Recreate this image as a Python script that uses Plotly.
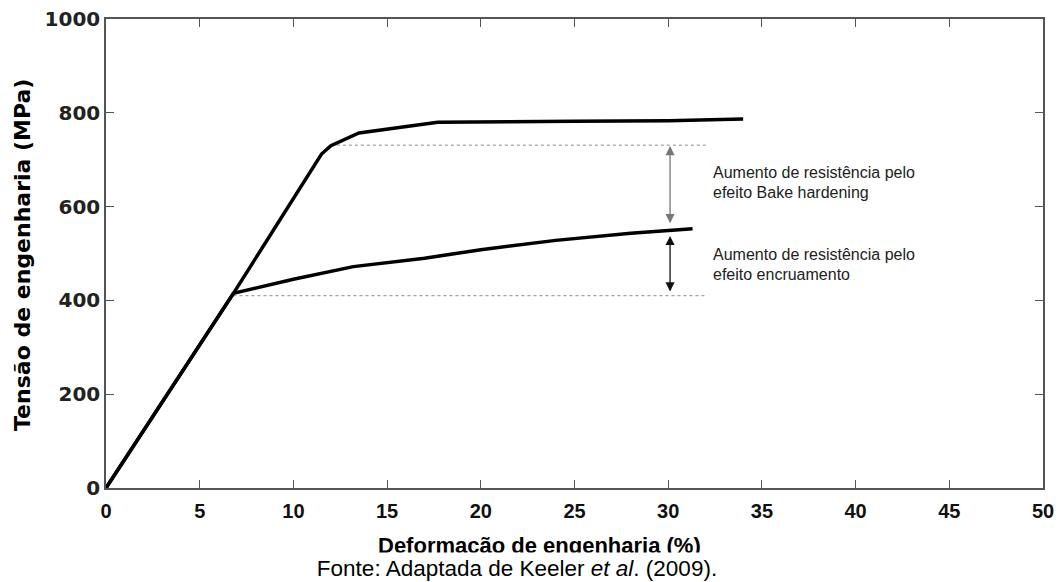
import numpy as np
import plotly.graph_objects as go

# ---- data ----
bh_strain = [0, 6.8, 11.5, 12.0, 13.5, 17.7, 25.0, 30.0, 34.0]
bh_stress = [0, 415, 712, 730, 757, 780, 782, 783, 787]

wh_strain = [0, 6.8, 10.0, 13.2, 17.0, 20.0, 24.0, 28.0, 31.3]
wh_stress = [0, 415, 445, 472, 490, 508, 528, 543, 553]

ref_levels = [731, 410]          # dotted reference levels (MPa)
ref_start = [12.0, 6.8]          # strain where each dotted line starts
ref_end = 32.0                   # strain where dotted lines end
arrow_x = 30.1                   # strain of the double arrows

x_ticks = [0, 5, 10, 15, 20, 25, 30, 35, 40, 45, 50]
y_ticks = [0, 200, 400, 600, 800, 1000]

label_bh = ["Aumento de resistência pelo", "efeito Bake hardening"]
label_wh = ["Aumento de resistência pelo", "efeito encruamento"]
label_bh_y = [672, 631]
label_wh_y = [497, 456]
label_x = 32.3
x_title = "Deformação de engenharia (%)"
y_title = "Tensão de engenharia (MPa)"
caption = "Fonte: Adaptada de Keeler <i>et al</i>. (2009)."

fig = go.Figure()

# dotted reference lines
for lvl, xs in zip(ref_levels, ref_start):
    fig.add_trace(go.Scatter(x=[xs, ref_end], y=[lvl, lvl], mode="lines",
                             line=dict(color="#8a8a8a", width=1, dash="dot"),
                             hoverinfo="skip", showlegend=False))

fig.add_trace(go.Scatter(x=wh_strain, y=wh_stress, mode="lines",
                         line=dict(color="black", width=3.5),
                         showlegend=False))
fig.add_trace(go.Scatter(x=bh_strain, y=bh_stress, mode="lines",
                         line=dict(color="black", width=3.5),
                         showlegend=False))

wh_at_arrow = float(np.interp(arrow_x, wh_strain, wh_stress))

arrow_common = dict(xref="x", yref="y", axref="x", ayref="y", text="",
                    showarrow=True, arrowhead=2, startarrowhead=2,
                    arrowside="end+start", arrowsize=1.4, startarrowsize=1.4,
                    arrowwidth=1.3)
fig.add_annotation(x=arrow_x, y=ref_levels[0] - 2, ax=arrow_x, ay=wh_at_arrow + 12,
                   arrowcolor="#777777", **arrow_common)
fig.add_annotation(x=arrow_x, y=wh_at_arrow - 12, ax=arrow_x, ay=ref_levels[1] + 6,
                   arrowcolor="#111111", **arrow_common)

text_font = dict(family="Liberation Sans, Arial, sans-serif", size=16, color="#222")
for lines, ys in ((label_bh, label_bh_y), (label_wh, label_wh_y)):
    for t, yy in zip(lines, ys):
        fig.add_annotation(x=label_x, y=yy, xref="x", yref="y", text=t, showarrow=False,
                           xanchor="left", yanchor="middle", align="left", font=text_font)

# axis titles
fig.add_annotation(x=-0.0885, y=0.497, xref="paper", yref="paper", text=y_title,
                   showarrow=False, textangle=-90, xanchor="center", yanchor="middle",
                   font=dict(family="DejaVu Sans, sans-serif", size=22, color="black",
                             weight="bold"))
fig.add_annotation(x=0.463, y=-0.0924, xref="paper", yref="paper", text=x_title,
                   showarrow=False, xanchor="center", yanchor="top",
                   font=dict(family="Liberation Sans, Arial, sans-serif", size=22,
                             color="black", weight="bold"))
# caption (white box clips the bottom of the x title, as in the source)
fig.add_annotation(x=0.439, y=-0.1365, xref="paper", yref="paper", text=caption,
                   showarrow=False, xanchor="center", yanchor="top",
                   bgcolor="white", width=700, height=29, valign="middle",
                   font=dict(family="Liberation Sans, Arial, sans-serif",
                             size=22.5, color="black"))

axis_common = dict(showgrid=False, zeroline=False, showline=True, linecolor="#555",
                   linewidth=1.5, mirror="ticks", ticks="inside", ticklen=8,
                   tickcolor="#555", tickwidth=1, automargin=False)

fig.update_xaxes(range=[0, 50], tickvals=x_ticks, ticktext=[str(v) for v in x_ticks],
                 tickfont=dict(family="Liberation Sans, Arial, sans-serif", size=20,
                               color="#111", weight="bold"),
                 ticklabelstandoff=4, **axis_common)
fig.update_yaxes(range=[0, 1000], tickvals=y_ticks, ticktext=[str(v) for v in y_ticks],
                 tickfont=dict(family="DejaVu Sans, sans-serif", size=20,
                               color="#222", weight="bold"),
                 **axis_common)

fig.update_layout(width=1061, height=582, margin=dict(l=106, r=18, t=19, b=94),
                  plot_bgcolor="white", paper_bgcolor="white", showlegend=False)

fig.write_html("out.html", config={"displayModeBar": False},
               post_script="document.body.style.margin='0px';"
                           "document.body.style.overflow='hidden';")
